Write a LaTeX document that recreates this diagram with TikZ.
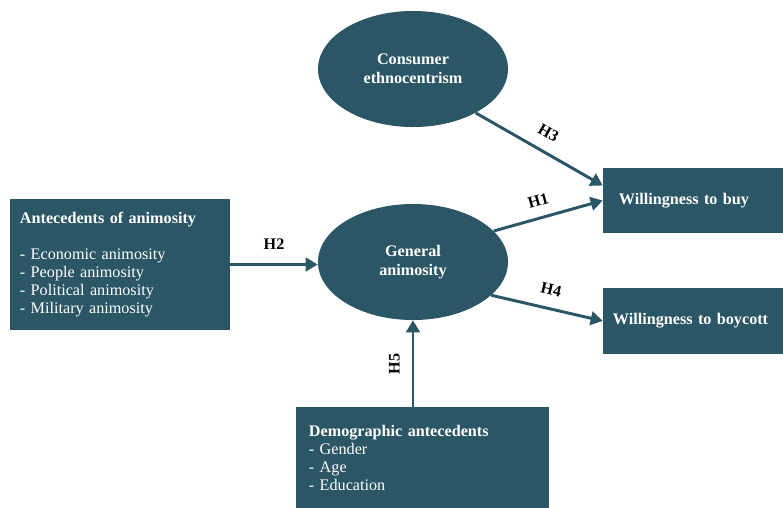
\documentclass[tikz,border=0pt]{standalone}
\usepackage{fontspec}
\setmainfont{Liberation Serif}
\usepackage{tikz}
\usetikzlibrary{arrows.meta, shapes.geometric}
\definecolor{teal}{HTML}{2B5666}
\tikzset{
  construct/.style={
    ellipse, fill=teal, draw=none, text=white,
    minimum width=4.75cm, minimum height=2.9cm,
    font=\fontsize{11.5}{13.5}\selectfont\bfseries, align=center, inner sep=0pt
  },
  itembox/.style={
    rectangle, fill=teal, draw=none, text=white,
    font=\fontsize{11.5}{12.8}\selectfont, align=left,
    inner xsep=0.25cm, inner ysep=0pt
  },
  darrow/.style={-{Triangle[length=3mm, width=3.4mm]}, line width=2.1pt, color=teal},
  hlabel/.style={font=\fontsize{11.5}{13}\selectfont\bfseries, text=black}
}

\begin{document}
\begin{tikzpicture}[x=0.025cm, y=-0.025cm]
    \useasboundingbox (0,0) rectangle (783,507);

    \node[construct] (cons) at (413,69) {Consumer\\ethnocentrism};
    \node[construct] (gen) at (413,262) {General\\animosity};

    \node[itembox, minimum width=5.5cm, minimum height=3.275cm, text width=5cm] (ante) at (120,264.5)
      {\textbf{Antecedents of animosity}\\[12.8pt]- Economic animosity\\- People animosity\\- Political animosity\\- Military animosity};
    \node[itembox, minimum width=4.5cm, minimum height=1.625cm, text width=4cm] (buy) at (693,200.5)
      {\textbf{\hspace*{0.15cm}Willingness to buy}};
    \node[itembox, minimum width=4.5cm, minimum height=1.65cm, text width=4cm] (boy) at (693,321)
      {\textbf{Willingness to boycott}};
    \node[itembox, minimum width=6.325cm, minimum height=2.5cm, text width=5.675cm, inner xsep=0.325cm] (demo) at (422.5,457.5)
      {\textbf{Demographic antecedents}\\- Gender\\- Age\\- Education};

    % hypotheses
    \draw[darrow] (ante.east) -- node[hlabel, above=6pt] {H2} (ante.east -| gen.west);
    \draw[darrow] (demo.north -| gen.south) -- node[hlabel, sloped, above=5pt] {H5} (gen.south);
    \draw[darrow] (gen.21) -- node[hlabel, sloped, above=4pt, pos=0.45] {H1} (buy.west);
    \draw[darrow] (cons.-35) -- node[hlabel, sloped, above=5pt] {H3} ([yshift=0.375cm]buy.west);
    \draw[darrow] (gen.-23) -- node[hlabel, sloped, above=5pt] {H4} (boy.west);
\end{tikzpicture}
\end{document}
